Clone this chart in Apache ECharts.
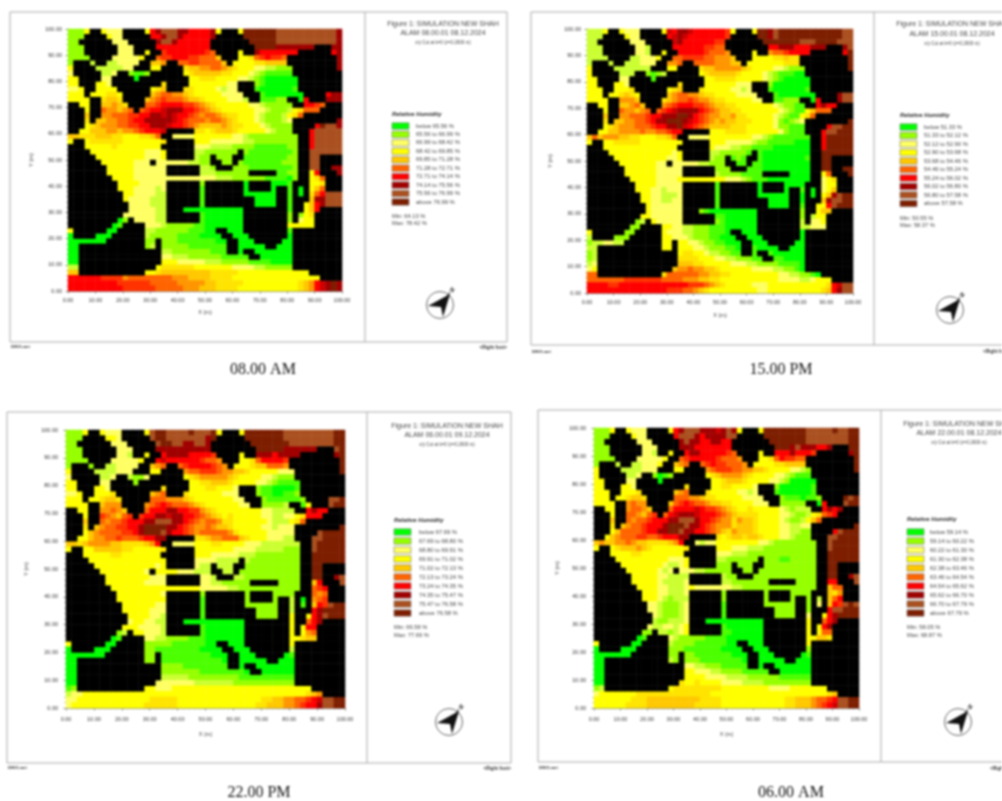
<!DOCTYPE html>
<html><head><meta charset="utf-8">
<style>html,body{margin:0;padding:0;background:#fff;overflow:hidden}#c{width:1002px;height:801px;filter:blur(.85px)}</style>
<script src="https://cdn.jsdelivr.net/npm/echarts@6/dist/echarts.min.js"></script>
</head><body><div id="c"></div>
<script>
// Shared building footprint, top row first (# = building)
const buildingRows = [
"....##....####..............###...................",
"...####...#####............#####..................",
"..######...#####..........#######.................",
"...######...####..........########...........###..",
"...######...##.##..........####.##........######..",
"....####......##............###.........#########.",
".###.##......##...##.........#..........#########.",
".####.......###..####....................########.",
".#####...##....######....................#########",
"..####..####.#########....................########",
"..###...#########.####.........###........########",
"...##....######...###..........###........########",
"...#......#####.................###........####...",
"....##....####...................##.....##..###...",
"##..##.....###...........................##....###",
"###.##......#.................................####",
"###.##.....................................#######",
"###.#....................................########.",
"###......................................####.....",
"##................#####..................###......",
".................##.......................##......",
".##...............#####...................##......",
"###..............######...................##......",
"####..............#####........#..........##......",
"#####.............#####...#...##..........##..####",
"######.........#..........##..#...........##..####",
"#######...........######...###............##..##..",
"#######...........######.........#####....##..###.",
"########..................................##...###",
"#########.........######.#######.####....###...###",
"#########.........######.#######.####.##.#.#...###",
"##########........######.#######......##.#.#......",
"##########........######.#########....##.###......",
"###########.......######.#########....##.##.......",
"###########.......###...........########.##...####",
"##########........######........########.#...#####",
"#########..#......######........########.#...#####",
"########..####..................########.....#####",
".######..#####.............##...########.#########",
".####...######..............##...#######.#########",
".......#######..#............##...#####..#########",
"..############..#............##.....##...#########",
"..###############............##.##.......#########",
"..###############................##......#########",
"..###############........................#########",
"..##############.........................#########",
"..############..............................######",
"..............................................####",
"..................................................",
".................................................."];
// Humidity class of every open cell, run by run (0-9 = legend class, a-i = halfway between two classes)
const humidity08 = [
"1113 3222 36788877666673 3999999888888888887",
"111 322 667887666667 999999888888888887",
"11 222 7887666666 99999888888888887",
"111 222 6666666666 99997777777 77",
"111 222 3 f6666666f5 3 76666666 67",
"1111 222223 5ff666ff5554 33d5f6ff5 7",
"1 b bb2222 44e 55ff55554 3333dd4444 7",
"3 bbbbb22 33 d44ee55e4d33322bb111 7",
"2 bb2 1aa1 3d44444dd3332b1aaaaa",
"33 22 0 33ddd333322b1a000000",
"33 332 d 333333322 1a000000",
"223 3333 3d4 dd33332b22 a000000a",
"333 333dd3 4e55ee4d333332222 a0000000 677",
"3333 d44d 4e5f555e44d3333222b aaa11 06 777",
"33 44e4d 55f6666ff5e4d33333322b11111 66f5",
"3 5ee4e5 5f66g77766f5e4d33333322b111b3d555",
"4 ee555ff6677g7g66f5e55e4dd3332b111b3d5",
"d 44ee55f6677777g6f555e55e4d3332b111b2 7",
"3d4eee55ff66777g66f5e4444e4dd3332b1111 69887",
"33444ee4ee5f666g dd3d444d333332b111 688888",
"44ddd444dd333dd45 2222333333322b111111111 688888",
"3 3dddddd3333333d 333222222bb11111111 688888",
"33333d33333333 222bbbb1111aaaaaa11 688888",
"33333333332223 bb111111 1aaaaaaaa1 888888",
"3333333332223 b11 111 aaaaaaaa11 88",
"333333222 222222bb11 11 1aaaaaaa111 88",
"33333222222 bb1 111aaaaaaaa1 88 77",
"33333222222 bbb111111 aa11 36 7",
"3333222222222222222bbb111111aaaa01 3d5",
"333322222 1 0 000a 33d",
"3332222b2 a 0 0 a 0 345",
"332222bb a 000000 a 0 d56888",
"32222bbb a 0000 a 477888",
"2222bbb a 0000 a 3467888",
"22222bb 00000000000 a 346",
"222222bb a0000000 1 13d",
"01 2222bb a0000000 1 233",
"0a 222b11111aa0000000 33333",
"3 00 bb111111aaa00 000 a",
"0 000 b11111aaaa0000 000 0",
"0000000 11 111aaaaaaa00 000 00",
"00 1b 11111aaaaaaa 00000 000",
"00 bb1111111aaa 0 0000000",
"00 22bbb111111aaaaa 000000",
"00 33322222bbb11111aaaa0000",
"bb 3dddddd33333332222bb11111",
"44 33d444444444ddddd3333333333333",
"666666ffffe55555555eee4444dddd3333333333333333",
"666666666ffffff55555eeeee44ddddd3333333333d4e6g797",
"6666666666ffffff55555eee444dddd33333333333d4e6g797"];
const humidity15 = [
"bbb3 3222 3g677g666666f3 3997899999999999988",
"bbb 322 6g7g6666666f 997899999999999988",
"bb 222 g7666666ff 99999998889999888",
"bbb 22b 666666ff55 66777666777 78",
"bbb 22b 3 66666f555e 3 e55f6666 69",
"bbbb bb2223 55ffff55eee4 3333dd4dd 9",
"b b bbb222 ee5 5555eee44 3333333ddd 9",
"3 bbbbbbb 33 d44eeeee4d33332 2b111 9",
"3 bbb 1a1b 3d44444d3333 2b1aaa00",
"33 22 a 33dddd3333 32b1a00000",
"33 332 d 333333222 10000000",
"333 333d 3d4 d333332 2b2 a000000a",
"333 33d4d3 4e55ee4dd33332222 a0000000 788",
"3333 eee4 d4e55f5ee4dd333332 2 aa111 06 788",
"33 44e54 e5f666ff5e44dd333333 32b11aa 6766",
"3 5ee4e5 5f6g77776f5e44dd3333 3332b1aa 3 4555",
"4 ee555f6677799 76f5ee44edd333332b1aa3d5",
"d 44ee55f67799 9 7g6f5e4e44ddd3333 21a1b2 9",
"3d4eee555f6677 9g6f5e44 44ddd33333 21 1aaa 68899",
"33 44eeee5ee55f66 333dddd333333 21aaa 688999",
"454eee44dd333dd45 2222333333332 2b1aaaaaaa 699999",
"3 33ddddd33333333 33322222b11aaaaa000 699999",
"33333333333333 3222bb11aaaa0000000 699999",
"33333333333323 bb11111a a000000000 999999",
"3333333333223 b11 a1a a00000000a 99",
"333333322 22222bb111 aa aa000000000 99",
"33333322222 111 aaa000000000 99 99",
"33333322222 b1111aaaa 0000 35 9",
"3333322223 3333333322 2b1aaa0000 0000 23d",
"333322222 a 0 0000 233",
"33322b222 a 0 0 a 0 234",
"3322bbb2 a 000000 0 0 34789 9",
"3322bb22 a 0000 0 478899",
"3222222 a 0000 a 3368999",
"3222222 1a000000000 1 344",
"33222222 aa000000 1 b33",
"1b 322222 1a000000 b 223",
"11 3322bb111aaa000000 bb222",
"3 11 3222bb111aaa0 000 0",
"b 111 3322 2b111aa000 000 0",
"1bb22bb 33 3322b11aa000 000 00",
"bb 33 33322b111aa0 a0000 000",
"1b 3dd332bb11aa a a000000",
"1b dddd33322bb111aa aa0000",
"b2 444dd33333222bb1111aaaa0",
"23 4ee5ee44d3333332222bb11a0",
"55 d555555ee44dd333333333 22bb11a0",
"5555555fffffff5555eee44dd333333333332222bb2333",
"6666ff6666666666666fff5e4d33333222333333 33333d6g88",
"666666666666666fff55e4d33333333322333333 3333d46788"];
const humidity22 = [
"1113 3222 38998888988893 3999999988888888899",
"111 332 899888888879 999999988888888899",
"11 222 8998877887 99999998888888899",
"111 222 7777777777 99999777777 89",
"111 22b 3 67777 6666f 3 77767777 79",
"1111 222223 6g6666 66f55e 33d56666f 9",
"1 1 bb2222 4e5 5f6666f5e 333d44555e 9",
"3 bbbb222 33 e55fff5ee44d33333222 9",
"2 bb2 b112 3d4eeeee4d33332 2b111",
"33 22 1 33dd444d3333 22b1aaaa",
"33 332 d 333dd3332 1aa0000a",
"223 333d 4e5 d333333222 1aa00aa1",
"333 33d44d 555eee4d33333332 2 1aaaaaa1 889",
"3333 4eee e5f6f555e4d33333322 1111b a3 899",
"33 ee5e4 5666776 6ffe4d33333333 22bbbb 6766",
"3 f5e45f f66 77g7766f5e4d3d33333 22bb22 3d666",
"4 5e55f66677888776f5e55edd3333332bbb3d5",
"d 4e55ff667 99997 76f5ee5e44d33333 22b222 9",
"34e555 5ff6799 9876 6f5e55555ed3333 322222 89999",
"334ee55f555f6677 dd4ee5554d33322 2bb 889999",
"44d4eeee44dddd4e6 2222333dd3333222bbbbbbb 899999",
"3 33444 44dd33333d 3333333 2222bbbbb111 899999",
"33333dd3333333 33322222bbb11111111 999999",
"33333333333333 2222bbbb b111111111 999999",
"3333333333323 2bb bbb 1111111111 99",
"333333332 33332 22bbb bb 11111111111 99",
"33333333222 22b bb1111111111 99 78",
"33333332222 22bb11111 1111 46 8",
"3333333333333333222 22bb1111111 1111 5f6",
"333333332 1 1 1111 5e5",
"333333333 a 1 1 b 0 e5f",
"33333322 a 111111 b a 46f899",
"33333222 a 1111 b 679999",
"333322b a 1111 3 3678999",
"233 22bb 00000000000 3 567",
"33322 22b a0000000 3 366",
"1b 33222b a0000000 3 3e5",
"0a 22bb1111aaa0000000 33d44",
"3 00 11111aaaaaa00 000 3",
"0 000 11aaaaaaaa0000 000 b",
"0000000 11 aaaaaaaaa000 000 0a",
"00 11 aaaaaaaaaaa0 00000 000",
"00 1111aaaaaaaa 0 0000000",
"00 1111111aaaaaaaa0 000000",
"00 bbbbb111111111aaaaaaaaaa",
"00 2222222bbbbbbb11111111111",
"a1 332223333333333333333333333333",
"b223333333 3333333333 3333333333 3333333333 333d4e",
"2233333333 33333ddddd 3333333333 33333dd44e e55f6g8899",
"2333333333 3333dddddd 3333333333 3333dd444e e5f667 8899"];
const humidity06 = [
"1113 3222 36788877 7g7873 3999999998888898899",
"111 322 688876777788 999999998888888899",
"11 222 7877667766 99999998888888899",
"111 222 7776666666 99978777667 99",
"111 22b 3 6776666 6f5 3 66676 66f 79",
"1111 222223 5f66666f555e 33d56ff55 9",
"1 b bb2223 4e5 5f6ff555e 3333dd4444 9",
"3 bbbb222 33 e5fff55ee44d3333 22b1 9",
"3 bb2 10a1 3d4eeee4d3333 22b1aaa",
"33 22 0 33d444d3333 22b1 00000",
"33 332 d 33dd33332 1000000a",
"333 333d 4e5 d333332 2b2 a000000a",
"333 33d44d 555ee4dd3333322 22 1aaa0aa1 989",
"3333 e5ee 45f6f55e44dd3333222 11111 06 899",
"33 e55e4 56666g6ff5e4d33d3333 32b1bbb 6767",
"3 55e45f 56g777g666f5e4dddd33 3322b11b 3d5f6",
"4 5e55f666778887 66f5eede44d3333 2b11b 345",
"d 4e55f666799987 76f5eeed444d333 322 bb22 9",
"34 5555f667 7998776 6f5e4de444d3333 22bb11 68999",
"34e555ff55f666 77 d3d44d44d33322b111 889999",
"4e44ee5e44dddd4e6 2b2233333333 22b11111111 899999",
"3 3d444e4d33333 3d 33322 2bbb1111111111 899999",
"3333dd33333333 222bbb1111111111111 999999",
"33333333332223 bb111111 111aa11111 999999",
"333333332bb23 111 111 1111111111 99",
"333333 2b2 222bb11111 11 11111111111 99",
"33333 22bbbb b11 111111111111 99 78",
"333332bbbb2 bb1111111 1111 66 8",
"3333 22bbb2 32222222bb 1111111111 1111 455",
"33322bbb2 1 1 1111 4de",
"3332b1bbb 1 1 1 1 b 456",
"22b111b2 a 111111 1 2 46f898",
"22b111b2 a 1111 1 688999",
"2b111b2 a 1111 2 3679999",
"b11bbb2 00000000000 3 567",
"2bb22b23 a0000000 3 367",
"11 bb1b23 aa000000 3 355",
"0a 2b11111aaaa0000000 334 4d",
"3 00 b1111aaaaaa00 000 3",
"0 000 111aaaaaaa0000 000 1",
"0000000 11 11aaaaaaa000 000 0a",
"00 b1 111aaaaaaaa0 00000 000",
"00 22bb111aaaaa 0 0000000",
"00 33222bb1111aaaaa 000000",
"00 333322 22bbbb111111aaaaaa",
"00 d33d33332222bbbb111111111",
"1b 3ddddddddd3333333332222 3333333",
"2333333 3dd dddddddddd dd33333333 3333333333 3333d4",
"3333333ddd 4444444444 dddd333333 333333dd44 4e55f68899",
"333333dddd 444444444d dddd333333 333333dd44 4e5f6g8899"];
const captions = ["08.00 AM","15.00 PM","22.00 PM","06.00 AM"];
const stamps = ["ALAM 08.00.01 08.12.2024","ALAM 15.00.01 08.12.2024","ALAM 06.00.01 09.12.2024","ALAM 22.00.01 08.12.2024"];
const labels08 = ["below 65.56 %","65.56 to 66.99 %","66.99 to 68.42 %","68.42 to 69.85 %","69.85 to 71.28 %","71.28 to 72.71 %","72.71 to 74.14 %","74.14 to 75.56 %","75.56 to 76.99 %","above 76.99 %"];
const labels15 = ["below 51.33 %","51.33 to 52.12 %","52.12 to 52.90 %","52.90 to 53.68 %","53.68 to 54.46 %","54.46 to 55.24 %","55.24 to 56.02 %","56.02 to 56.80 %","56.80 to 57.58 %","above 57.58 %"];
const labels22 = ["below 67.69 %","67.69 to 68.80 %","68.80 to 69.91 %","69.91 to 71.02 %","71.02 to 72.13 %","72.13 to 73.24 %","73.24 to 74.35 %","74.35 to 75.47 %","75.47 to 76.58 %","above 76.58 %"];
const labels06 = ["below 59.14 %","59.14 to 60.22 %","60.22 to 61.30 %","61.30 to 62.38 %","62.38 to 63.46 %","63.46 to 64.54 %","64.54 to 65.62 %","65.62 to 66.70 %","66.70 to 67.79 %","above 67.79 %"];
const minmax = [["Min: 64.13 %","Max: 78.42 %"],["Min: 50.55 %","Max: 58.37 %"],["Min: 66.58 %","Max: 77.69 %"],["Min: 58.05 %","Max: 68.87 %"]];
const classColors = ["#00ff00","#96ff00","#ffff64","#ffff00","#ffc800","#ff6400","#ff0000","#a00000","#aa5020","#7d1e00"];

const layouts = [
 {f:[10,12,507,342,365],p:[68,29,342,291],tc:443,ty:[24,33,43],lx:392,lt:114,l0:126,lp:8.44,tx:416,my:[216,223],cp:[440,305],fl:[11,347],fr:[507,348,'right'],lm:6,ng:18,yg:34,data:humidity08,labels:labels08},
 {f:[531,12,1012,345,874],p:[587,29,853,293],tc:952,ty:[24.5,34,44],lx:900,lt:115,l0:127,lp:8.5,tx:924,my:[218,225],cp:[950,310],fl:[532,352],fr:[983,352,'left'],lm:6,ng:19,yg:34,data:humidity15,labels:labels15},
 {f:[7,412,511,763,367],p:[66,430,345,708],tc:447,ty:[426,435,445],lx:394,lt:520,l0:532,lp:9,tx:419,my:[627,635],cp:[449,722],fl:[8,768],fr:[511,769,'right'],lm:8,ng:23,yg:37,data:humidity22,labels:labels22},
 {f:[538,410,1012,762,881],p:[594,428,859,708],tc:959,ty:[424,433,443],lx:907,lt:519,l0:532,lp:9,tx:930,my:[627,635],cp:[958,722],fl:[539,768],fr:[990,769,'left'],lm:8,ng:23,yg:34,data:humidity06,labels:labels06}
];
const capPos = [[263,370],[781,370],[259,793],[791,793]];
const FONT = '"Liberation Sans"', GRAY = '#a9a9a9', INK = '#444';
const level = ch => { const i = "0123456789".indexOf(ch); return i >= 0 ? i : "abcdefghi".indexOf(ch) + 0.5; };
function cells(rows){
  const heat = [], solid = [];
  buildingRows.forEach((mask, r) => {
    const flat = rows[r].replace(/ /g, '');
    let k = 0;
    for (let c = 0; c < 50; c++) {
      if (mask[c] === '#') solid.push([c, 49 - r, 1]);
      else heat.push([c, 49 - r, level(flat[k++])]);
    }
  });
  return {heat, solid};
}
const idx = Array.from({length:50}, (_, i) => i);
const grids=[], xAxes=[], yAxes=[], series=[], graphic=[], heatIdx=[];
const txt = (x,y,t,o={}) => graphic.push({type:'text',x,y,silent:true,rotation:o.rot||0,style:{text:t,fill:o.fill||INK,font:(o.w||'')+' '+(o.s||6.6)+'px '+(o.fam||FONT),textAlign:o.a||'left',textVerticalAlign:'middle'}});
const line = (a,b,c,d,col=GRAY,w=1) => graphic.push({type:'line',silent:true,shape:{x1:a,y1:b,x2:c,y2:d},style:{stroke:col,lineWidth:w}});
layouts.forEach((L, n) => {
  const [fx,fy,fr,fb,fd] = L.f, [pl,pt,pr,pb] = L.p;
  grids.push({left:pl, top:pt, width:pr-pl, height:pb-pt, show:false});
  const valAxis = {gridIndex:n, type:'value', min:0, max:100, interval:10,
    axisLine:{show:true,onZero:false,lineStyle:{color:'#888',width:1}},
    axisTick:{show:true,length:2.5,lineStyle:{color:'#888'}},
    minorTick:{show:true,splitNumber:5,length:1.5,lineStyle:{color:'#aaa'}},
    splitLine:{show:false},
    axisLabel:{fontSize:5.5,color:'#333',fontFamily:FONT,margin:L.lm,showMinLabel:true,showMaxLabel:true,formatter:v=>v.toFixed(2)},
    nameLocation:'middle', nameTextStyle:{fontSize:5.5,color:'#444',fontFamily:FONT}};
  const catAxis = () => ({gridIndex:n, type:'category', data:idx, show:false, boundaryGap:true});
  xAxes.push(catAxis(), Object.assign({}, valAxis, {position:'bottom', name:'X (m)', nameGap:L.ng}));
  yAxes.push(catAxis(), Object.assign({}, valAxis, {position:'left', name:'Y (m)', nameGap:L.yg}));
  const {heat, solid} = cells(L.data);
  heatIdx.push(series.length);
  series.push({type:'heatmap', xAxisIndex:2*n, yAxisIndex:2*n, data:heat, progressive:0, animation:false, silent:true});
  series.push({type:'heatmap', xAxisIndex:2*n, yAxisIndex:2*n, data:solid, progressive:0, animation:false, silent:true, itemStyle:{color:'#000'}});

  graphic.push({type:'rect',silent:true,shape:{x:fx,y:fy,width:fr-fx,height:fb-fy},style:{fill:'none',stroke:GRAY,lineWidth:1}});
  line(fd,fy,fd,fb);
  txt(L.tc,L.ty[0],'Figure 1: SIMULATION NEW SHAH',{a:'center',s:7});
  txt(L.tc,L.ty[1],stamps[n],{a:'center',s:7});
  txt(L.tc,L.ty[2],'x/y Cut at k=0 (z=0.2000 m)',{a:'center',s:4.5});
  txt(L.lx,L.lt,'Relative Humidity',{w:'italic bold',s:5.9,fill:'#222'});
  L.labels.forEach((t,i) => {
    const y = L.l0 + i*L.lp;
    graphic.push({type:'rect',silent:true,shape:{x:L.lx,y:y-3.2,width:17,height:6.4},style:{fill:classColors[i],stroke:'#777',lineWidth:.6}});
    txt(L.tx,y,t,{s:5.8});
  });
  txt(L.lx,L.my[0],minmax[n][0],{s:5.7});
  txt(L.lx,L.my[1],minmax[n][1],{s:5.7});
  txt(L.fl[0],L.fl[1],'DNVI-met',{s:4.2,w:'bold',fill:'#333'});
  txt(L.fr[0],L.fr[1],'<Right foot>',{s:4.7,w:'bold',a:L.fr[2],fill:'#333'});
  txt(capPos[n][0],capPos[n][1],captions[n],{s:16,a:'center',fam:'"Liberation Serif"',fill:'#111'});
  const [cx,cy] = L.cp;
  graphic.push({type:'circle',silent:true,shape:{cx,cy,r:13.5},style:{fill:'none',stroke:'#666',lineWidth:1}});
  graphic.push({type:'polygon',silent:true,x:cx,y:cy,shape:{points:[[10,-11],[-12,1],[1,2],[3,12]]},style:{fill:'#111'}});
  line(cx+7,cy-9,cx+10,cy-13,'#333',1);
  graphic.push({type:'text',silent:true,x:cx+12,y:cy-15,rotation:-0.6,style:{text:'N',font:'bold 6px '+FONT,fill:'#222',textAlign:'center',textVerticalAlign:'middle'}});
});
const chart = echarts.init(document.getElementById('c'), null, {renderer:'canvas'});
chart.setOption({
  animation:false, backgroundColor:'#fff',
  grid:grids, xAxis:xAxes, yAxis:yAxes, series, graphic,
  visualMap:{type:'continuous', show:false, min:0, max:9, dimension:2, seriesIndex:heatIdx, inRange:{color:classColors}}
});
</script></body></html>
